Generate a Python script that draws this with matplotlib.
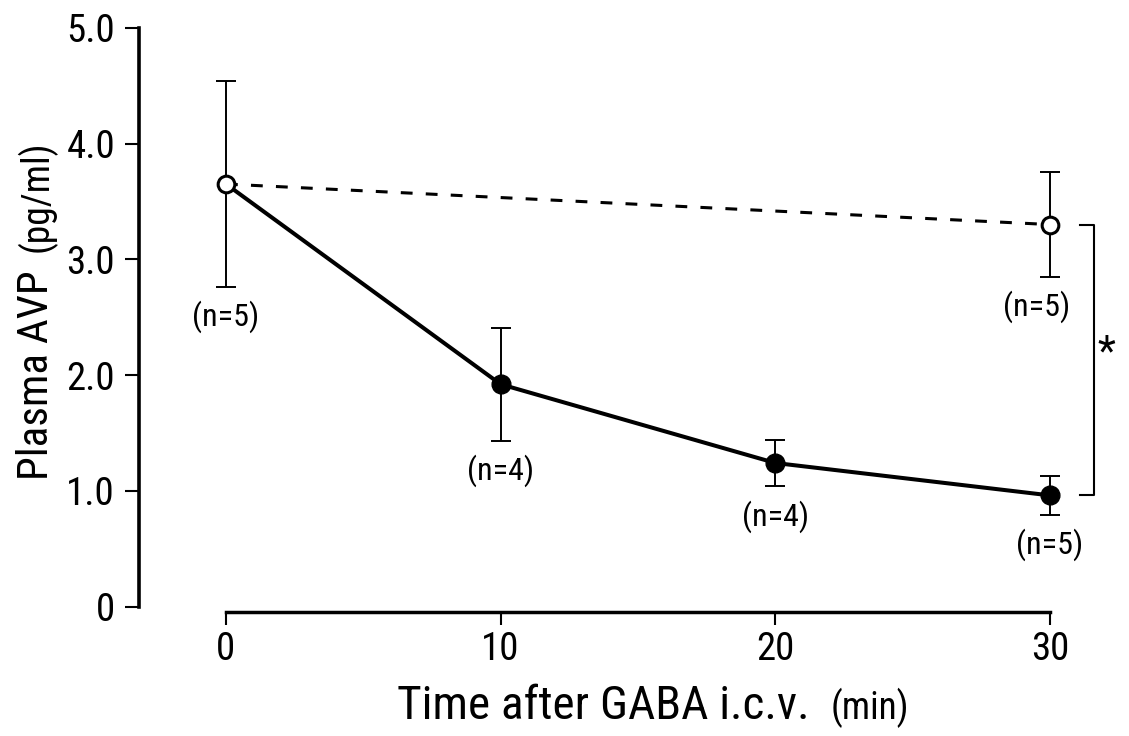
import matplotlib
matplotlib.use("Agg")
import matplotlib.pyplot as plt
import matplotlib.font_manager as fm

# ---------------- data ----------------
time_ctrl = [0, 30]
avp_ctrl = [3.65, 3.30]
sem_ctrl = [0.89, 0.45]
n_ctrl = [5, 5]

time_gaba = [0, 10, 20, 30]
avp_gaba = [3.65, 1.92, 1.24, 0.96]
sem_gaba = [0.89, 0.49, 0.20, 0.17]
n_gaba = [5, 4, 4, 5]

y_ticks = [0, 1, 2, 3, 4, 5]
y_ticklabels = ["0", "1.0", "2.0", "3.0", "4.0", "5.0"]
x_ticks = [0, 10, 20, 30]
x_ticklabels = ["0", "10", "20", "30"]

xlabel_main = "Time after GABA i.c.v."
xlabel_unit = "(min)"
ylabel_main = "Plasma AVP"
ylabel_unit = "(pg/ml)"
sig_mark = "*"

# ---------------- font ----------------
names = {f.name for f in fm.fontManager.ttflist}
stretch = "normal"
if "Liberation Sans Narrow" in names:
    fam = "Liberation Sans Narrow"
elif "Roboto Condensed" in names:
    fam = "Roboto Condensed"
elif any(f.name == "DejaVu Sans" and str(f.stretch) in ("condensed", "semi-condensed")
         for f in fm.fontManager.ttflist):
    fam = "DejaVu Sans"
    stretch = "condensed"
else:
    fam = "Liberation Sans"
plt.rcParams["font.family"] = [fam, "DejaVu Sans"]
plt.rcParams["font.stretch"] = stretch
plt.rcParams["lines.scale_dashes"] = False

W, H = 1129, 736
fig = plt.figure(figsize=(W / 100, H / 100), dpi=100)

x_left_px, x0_px, x30_px, x_right_px = 138.5, 226.0, 1050.0, 1120.0
y0_px, y5_px = 606.5, 27.8
ppu = (x30_px - x0_px) / 30.0
xmin = -(x0_px - x_left_px) / ppu
xmax = 30 + (x_right_px - x30_px) / ppu

ax = fig.add_axes([x_left_px / W, (H - y0_px) / H,
                   (x_right_px - x_left_px) / W, (y0_px - y5_px) / H])
ax.set_xlim(xmin, xmax)
ax.set_ylim(0, 5)

# error bars
eb_kw = dict(fmt="none", ecolor="black", elinewidth=1.4, capsize=7.2, capthick=1.4, zorder=2)
ax.errorbar(time_ctrl, avp_ctrl, yerr=sem_ctrl, **eb_kw)
ax.errorbar(time_gaba[1:], avp_gaba[1:], yerr=sem_gaba[1:], **eb_kw)

# lines
ax.plot(time_gaba, avp_gaba, "-", color="black", lw=2.9, zorder=3, solid_capstyle="round")
ax.plot(time_ctrl, avp_ctrl, color="black", lw=2.2, linestyle=(0, (8.5, 9.5)), zorder=3)

# markers
ax.plot(time_gaba[1:], avp_gaba[1:], "o", ms=13.5, mfc="black", mec="black", zorder=4)
ax.plot(time_ctrl, avp_ctrl, "o", ms=12, mfc="white", mec="black", mew=2.2, zorder=5)

# n labels
lab_gap = 0.26
ctrl_dx = [0.0, -0.5]
for t, v, e, n, dx in zip(time_ctrl, avp_ctrl, sem_ctrl, n_ctrl, ctrl_dx):
    ax.text(t + dx, v - e - lab_gap, f"(n={n})", ha="center", va="center", fontsize=23)
for t, v, e, n in zip(time_gaba[1:], avp_gaba[1:], sem_gaba[1:], n_gaba[1:]):
    ax.text(t, v - e - lab_gap, f"(n={n})", ha="center", va="center", fontsize=23)

# significance bracket
bx0, bx1 = 31.09, 31.6
ax.plot([bx0, bx1, bx1, bx0], [avp_ctrl[-1], avp_ctrl[-1], avp_gaba[-1], avp_gaba[-1]],
        color="black", lw=1.5, clip_on=False, zorder=3)
ax.text(32.04, (avp_ctrl[-1] + avp_gaba[-1]) / 2 + 0.06, sig_mark, ha="center", va="center",
        fontsize=30, clip_on=False)

# spines and ticks
for s in ("top", "right"):
    ax.spines[s].set_visible(False)
ax.spines["left"].set_bounds(0, 5)
ax.spines["left"].set_linewidth(2.6)
ax.spines["bottom"].set_position(("outward", 3.6))
ax.spines["bottom"].set_bounds(0, 30)
ax.spines["bottom"].set_linewidth(2.5)

ax.set_yticks(y_ticks)
ax.set_yticklabels(y_ticklabels)
ax.set_xticks(x_ticks)
ax.set_xticklabels(x_ticklabels)
ax.tick_params(axis="y", direction="out", length=10, width=1.5, pad=6.8, labelsize=28)
ax.tick_params(axis="x", direction="out", length=9.5, width=1.5, pad=4.3, labelsize=28)

# axis labels (placed after measuring)
y1 = fig.text(48 / W, 0.5, ylabel_main, rotation=90, rotation_mode="anchor",
              ha="left", va="baseline", fontsize=31)
y2 = fig.text(48 / W, 0.5, ylabel_unit, rotation=90, rotation_mode="anchor",
              ha="left", va="baseline", fontsize=27)
t1 = fig.text(0, (H - 719) / H, xlabel_main, ha="left", va="baseline", fontsize=34)
t2 = fig.text(0, (H - 719) / H, xlabel_unit, ha="left", va="baseline", fontsize=27)
fig.canvas.draw()
r = fig.canvas.get_renderer()

w1 = t1.get_window_extent(r).width
w2 = t2.get_window_extent(r).width
gap = 21
start = 653.5 - (w1 + gap + w2) / 2
t1.set_x(start / W)
t2.set_x((start + w1 + gap) / W)

h1 = y1.get_window_extent(r).height
h2 = y2.get_window_extent(r).height
ygap = 18
ystart = 310 + (h1 + ygap + h2) / 2   # pixel from top, bottom end of label
y1.set_y((H - ystart) / H)
y2.set_y((H - (ystart - h1 - ygap)) / H)

fig.savefig("out.png", dpi=100)
